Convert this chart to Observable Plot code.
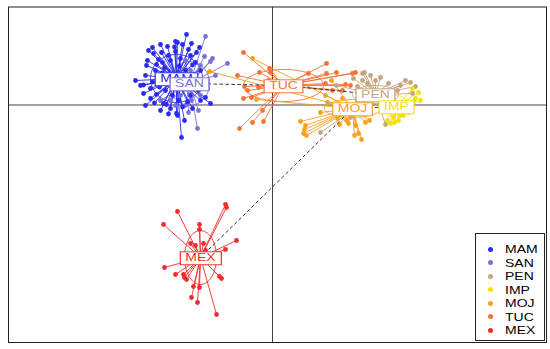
<!DOCTYPE html>
<html><head><meta charset="utf-8">
<script src="https://cdn.jsdelivr.net/npm/d3@7"></script>
<script src="https://cdn.jsdelivr.net/npm/@observablehq/plot@0.6"></script>
<style>
body{margin:0;background:#fff;font-family:"Liberation Sans",Arial,sans-serif;}
#wrap{position:relative;width:550px;height:349px;overflow:hidden;}
#legend{position:absolute;left:475px;top:233px;width:70px;height:108px;border:1px solid #222;background:#fff;box-sizing:border-box;}
.row{position:absolute;left:0;height:14px;width:70px;}
.dot{position:absolute;left:12px;top:4.5px;width:5px;height:5px;border-radius:50%;}
.lab{position:absolute;left:29px;top:-2px;font-size:14px;line-height:18px;color:#000;transform:scaleY(0.78);transform-origin:0 50%;}
</style></head><body><div id="wrap"></div>
<script>
// groups and colours
const groups = ["MAM","SAN","PEN","IMP","MOJ","TUC","MEX"];
const colors = ["#2b2bf0","#7b72cf","#c4a57e","#f5e000","#f8a020","#f77236","#f52a2a"];
// group centroids (discriminant functions 1 and 2)
const centroidX = [-9.6, -8.3, 10.3, 12.4, 8.0, 1.1, -7.2];
const centroidY = [2.65, 2.15, 1.05, -0.15, -0.35, 1.95, -15.25];
// inertia ellipses
const ellipseRx = [2.6, 2.0, 2.3, 1.2, 2.8, 4.0, 1.6];
const ellipseRy = [2.4, 2.2, 0.9, 1.1, 0.9, 1.6, 2.7];
// axis extents
const xDomain = [-26.4, 27.4];
const yDomain = [-23.75, 9.8];
// individual scores
const pointsMAM = [[-8.6,7.05],[-9.7,6.35],[-11.2,6.05],[-10.5,5.85],[-9.0,6.05],[-8.1,6.15],[-7.3,5.75],[-12.4,5.45],[-11.9,5.15],[-11.1,5.25],[-9.7,5.35],[-8.4,5.55],[-8.2,4.95],[-12.5,4.45],[-11.4,4.55],[-12.6,3.95],[-13.7,2.45],[-12.7,2.95],[-12.7,-0.05],[-12.9,1.15],[-11.6,1.05],[-10.2,-0.35],[-9.6,-0.85],[-9.1,-3.25],[-6.2,0.15],[-6.7,0.75],[-10.9,0.15],[-9.4,0.45],[-12.0,5.75],[-9.5,6.25],[-10.6,0.05],[-9.5,-1.05],[-8.8,-1.55],[-13.2,1.95],[-12.2,1.65],[-11.7,3.45],[-11.0,4.25],[-10.2,4.45],[-9.2,4.65],[-7.7,4.25],[-7.2,3.45],[-7.4,1.45],[-8.2,0.95],[-10.7,1.45],[-11.4,2.45],[-10.2,2.95],[-8.7,3.45],[-12.2,0.65],[-11.2,-0.55],[-10.0,0.95],[-8.8,1.65],[-8.0,-0.35],[-7.2,0.45],[-7.6,5.25],[-10.4,4.95],[-11.6,4.05],[-11.0,3.2],[-10.6,2.2],[-9.9,1.8],[-8.9,2.3],[-8.4,2.9],[-9.3,3.9],[-10.8,3.7],[-12.0,2.3],[-11.8,0.2],[-10.4,-0.9],[-9.0,-0.2],[-7.8,2.6],[-7.0,1.9],[-8.0,4.0],[-9.8,5.8],[-11.3,1.8],[-12.9,2.0],[-8.5,0.3]];
const pointsSAN = [[-6.7,6.85],[-6.8,4.85],[-4.5,4.15],[-6.2,4.35],[-6.0,4.65],[-7.5,-2.35],[-8.1,0.45],[-7.2,0.95],[-8.7,-0.05],[-7.7,1.95],[-6.7,2.45],[-9.2,0.95],[-8.4,-0.75],[-9.7,-0.05],[-7.4,-0.55],[-6.5,1.65],[-10.2,0.45],[-7.2,3.95],[-8.2,3.45],[-8.7,4.45],[-5.7,2.95],[-9.4,1.95],[-11.2,0.45]];
const pointsPEN = [[9.0,3.15],[9.8,2.95],[10.8,2.75],[9.0,2.45],[9.5,2.15],[11.6,2.15],[12.8,1.95],[13.8,2.25],[12.5,1.45],[14.0,1.15],[12.1,0.45],[8.1,2.65],[7.8,-1.25],[4.8,-2.75],[11.3,-1.95],[10.3,2.45],[13.3,2.45],[8.5,1.85],[11.2,1.45],[9.2,3.25],[14.3,1.85],[6.4,1.95]];
const pointsIMP = [[14.6,1.25],[14.3,0.65],[14.1,0.25],[13.5,-0.05],[12.8,-1.05],[12.1,-1.25],[11.5,-1.55],[11.8,-1.85],[12.6,-1.55],[13.1,-1.05],[13.6,-0.75],[14.0,1.65],[13.8,-0.35],[12.3,-0.75],[13.0,-0.35],[14.8,0.45],[12.2,-1.75]];
const pointsMOJ = [[-6.3,3.35],[-2.0,4.65],[-1.6,0.55],[5.9,2.45],[5.3,0.95],[5.5,0.25],[2.8,-1.65],[3.2,-2.45],[3.4,-3.05],[3.3,-2.05],[3.1,-2.85],[8.2,-3.05],[8.9,-3.45],[9.7,-1.55],[6.7,-1.95],[7.4,-1.55],[9.2,0.05],[7.6,-1.85],[8.3,-2.05],[8.6,-2.85],[9.3,-1.75],[6.5,-1.35],[7.0,0.65],[7.8,-1.05],[8.8,-0.75],[7.3,-0.55],[8.5,0.45],[4.8,-0.75]];
const pointsTUC = [[-2.9,5.25],[-0.3,3.65],[-0.2,3.25],[-1.3,3.25],[-3.5,2.95],[-2.8,1.85],[-2.5,1.45],[-2.9,0.65],[-2.1,0.75],[-3.3,-2.35],[-2.0,-1.75],[-0.9,-1.65],[5.4,4.15],[8.3,3.25],[3.6,3.15],[5.4,3.15],[6.4,3.25],[7.3,2.05],[7.8,1.95],[8.0,3.15],[5.3,2.15],[6.0,1.45],[7.0,1.45],[-1.4,1.75],[-1.0,-0.55],[-0.4,2.45],[2.8,1.45]];
const pointsMEX = [[-4.7,-9.95],[-4.6,-10.25],[-9.5,-10.65],[-10.9,-11.95],[-7.3,-11.95],[-7.3,-12.45],[-3.6,-13.55],[-4.7,-14.45],[-8.2,-13.85],[-7.7,-14.05],[-6.9,-13.85],[-10.8,-16.25],[-9.7,-16.95],[-8.8,-17.25],[-8.6,-17.45],[-8.9,-16.95],[-5.1,-17.35],[-5.3,-17.15],[-7.9,-18.15],[-7.3,-18.25],[-8.1,-19.25],[-7.5,-19.75],[-5.6,-20.95],[-6.7,-14.55],[-7.6,-15.35],[-6.8,-15.75]];
// minimum spanning tree between group centroids
const mstFrom = ["MAM","SAN","TUC","PEN","IMP","MOJ"];
const mstTo   = ["SAN","TUC","PEN","IMP","MOJ","MEX"];

// ---- build tables
const pointsByGroup = {MAM:pointsMAM, SAN:pointsSAN, PEN:pointsPEN, IMP:pointsIMP, MOJ:pointsMOJ, TUC:pointsTUC, MEX:pointsMEX};
const centroids = groups.map((g,i)=>({group:g, x:centroidX[i], y:centroidY[i]}));
const cById = Object.fromEntries(centroids.map(c=>[c.group,c]));
const drawOrder = ["PEN","IMP","MOJ","TUC","SAN","MAM","MEX"];
const pts = [];
for (const g of drawOrder) for (const [x,y] of pointsByGroup[g]) pts.push({group:g, x, y, cx:cById[g].x, cy:cById[g].y});
const ell = [];
groups.forEach((g,i)=>{ for (let k=0;k<=72;k++){ const t=2*Math.PI*k/72; ell.push({group:g, x:centroidX[i]+ellipseRx[i]*Math.cos(t), y:centroidY[i]+ellipseRy[i]*Math.sin(t)}); }});
const edges = mstFrom.map((a,i)=>({x1:cById[a].x, y1:cById[a].y, x2:cById[mstTo[i]].x, y2:cById[mstTo[i]].y}));

const svg = Plot.plot({
  width:550, height:349,
  marginLeft:8, marginRight:4, marginTop:6.5, marginBottom:7,
  x:{domain:xDomain, axis:null},
  y:{domain:yDomain, axis:null},
  color:{domain:groups, range:colors},
  style:{background:"white"},
  marks:[
    Plot.ruleX([0], {stroke:"#444", strokeWidth:1}),
    Plot.ruleY([0], {stroke:"#444", strokeWidth:1}),
    Plot.line(ell, {x:"x", y:"y", z:"group", stroke:"group", strokeWidth:0.9}),
    Plot.link(pts, {x1:"cx", y1:"cy", x2:"x", y2:"y", stroke:"group", strokeWidth:0.9}),
    Plot.dot(pts, {x:"x", y:"y", fill:"group", r:2.4}),
    Plot.link(edges, {x1:"x1", y1:"y1", x2:"x2", y2:"y2", stroke:"#333", strokeWidth:1, strokeDasharray:"3.5,2.5"}),
    Plot.text(centroids, {x:"x", y:"y", text:"group", fill:"group", fontSize:14, fontFamily:"Liberation Sans"}),
    Plot.frame({stroke:"#222", strokeWidth:1})
  ]
});
const wrap = document.getElementById("wrap");
wrap.appendChild(svg);

// white boxes behind the centroid labels
const colorOf = Object.fromEntries(groups.map((g,i)=>[g,colors[i]]));
svg.querySelectorAll('g[aria-label="text"] text').forEach(t=>{
  const tr = t.getAttribute("transform") || "";
  t.setAttribute("transform", tr + " scale(1,0.78)");
  const b = t.getBBox();
  const r = document.createElementNS("http://www.w3.org/2000/svg","rect");
  r.setAttribute("x", b.x-5); r.setAttribute("y", b.y+0.5);
  r.setAttribute("width", b.width+10); r.setAttribute("height", b.height+1);
  r.setAttribute("fill","white");
  r.setAttribute("stroke", colorOf[t.textContent]);
  r.setAttribute("stroke-width", 1.2);
  r.setAttribute("transform", t.getAttribute("transform"));
  t.parentNode.insertBefore(r, t);
});

// legend
const leg = document.createElement("div"); leg.id="legend";
groups.forEach((g,i)=>{
  const row=document.createElement("div"); row.className="row"; row.style.top=(8+13.5*i)+"px";
  const d=document.createElement("div"); d.className="dot"; d.style.background=colors[i];
  const l=document.createElement("div"); l.className="lab"; l.textContent=g;
  row.appendChild(d); row.appendChild(l); leg.appendChild(row);
});
wrap.appendChild(leg);
</script></body></html>
